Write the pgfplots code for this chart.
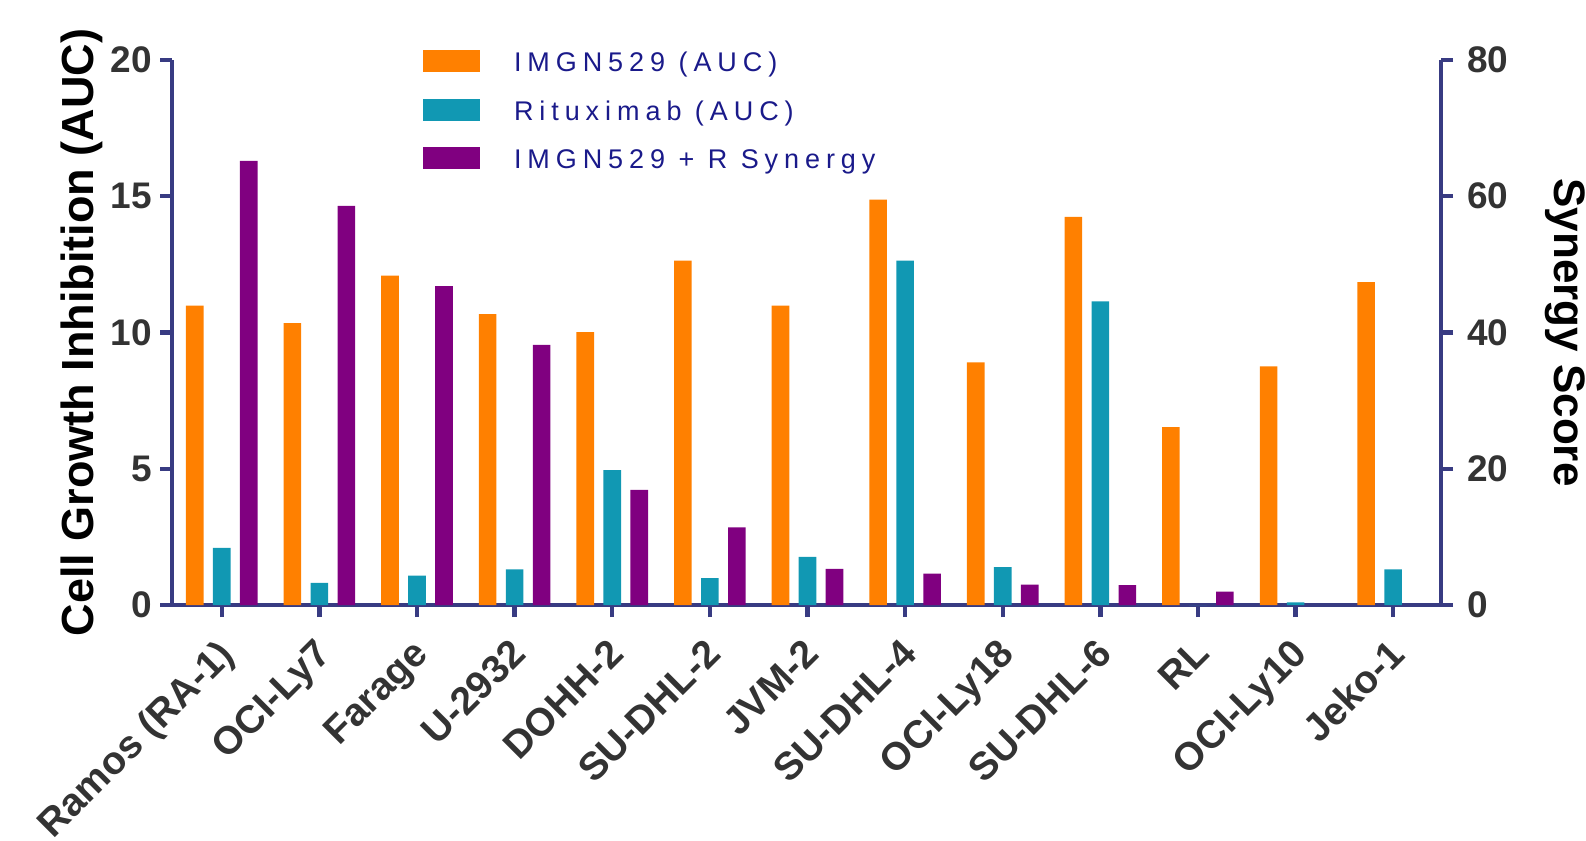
\documentclass[border=0pt]{standalone}
\usepackage{fontspec}
\setmainfont{Liberation Sans}
\newfontfamily\legfont[LetterSpace=22]{Liberation Sans}
\usepackage{pgfplots}
\pgfplotsset{compat=1.18}
\definecolor{cOrange}{HTML}{FF8000}
\definecolor{cTeal}{HTML}{1198B3}
\definecolor{cPurple}{HTML}{800080}
\definecolor{cAxis}{HTML}{383B82}
\definecolor{cLeg}{HTML}{1A1A8A}
\definecolor{cTick}{HTML}{333333}
\pgfplotsset{
  common/.style={
    scale only axis, width=634.5pt, height=272.5pt,
    xmin=-0.51, xmax=12.49,
    ybar, bar width=8.8pt,
    axis line style={-, cAxis, line width=2.4pt},
    major tick style={cAxis, line width=2.2pt},
    major tick length=6pt, tick align=outside,
    minor tick num=0,
    tick label style={font=\bfseries\fontsize{18.5}{20}\selectfont, text=cTick},
    clip=false,
  }
}
\begin{document}
\begin{tikzpicture}
\path[use as bounding box] (-86pt,-118pt) rectangle (707pt,302.5pt);
\begin{axis}[common,
  ymin=0, ymax=20,
  axis x line*=bottom, axis y line*=left,
  xtick={0,1,2,3,4,5,6,7,8,9,10,11,12},
  xticklabels={Ramos (RA-1),OCI-Ly7,Farage,U-2932,DOHH-2,SU-DHL-2,JVM-2,SU-DHL-4,OCI-Ly18,SU-DHL-6,RL,OCI-Ly10,Jeko-1},
  xticklabel style={xshift=-3pt, yshift=-5pt, rotate=45, anchor=north east, font=\bfseries\fontsize{19.5}{21}\selectfont, text=cTick},
  ytick={0,5,10,15,20},
  yticklabels={0,5,10,15,20},
  yticklabel style={xshift=-0.5pt},
  ylabel={Cell Growth Inhibition (AUC)},
  ylabel style={at={(axis description cs:-0.0709,0.5)}, anchor=center, font=\bfseries\fontsize{22.5}{24}\selectfont, text=black},
  legend image code/.code={\fill (0pt,-0.2pt) rectangle (28.5pt,10.8pt);},
  legend style={at={(axis description cs:0.1978,1)}, anchor=north west, yshift=5.05pt,
    draw=none, fill=none, inner sep=0pt, outer sep=0pt, row sep=10.5pt, column sep=17pt,
    nodes={inner sep=0pt, text height=10.8pt, text depth=3pt, anchor=base west,
      font=\legfont\fontsize{13.5}{15}\selectfont, text=cLeg}},
  legend cell align=left,
]
\addplot[fill=cOrange, draw=none, bar shift=-13.5pt] coordinates {
(0,10.99) (1,10.34) (2,12.09) (3,10.67) (4,10.01) (5,12.64) (6,10.99)
(7,14.88) (8,8.90) (9,14.24) (10,6.53) (11,8.76) (12,11.85)};
\addlegendentry{IMGN529 (AUC)}
\addplot[fill=cTeal, draw=none, bar shift=0pt] coordinates {
(0,2.10) (1,0.81) (2,1.08) (3,1.31) (4,4.95) (5,0.99) (6,1.77)
(7,12.64) (8,1.39) (9,11.14) (10,0) (11,0.10) (12,1.31)};
\addlegendentry{Rituximab (AUC)}
\addlegendimage{fill=cPurple, draw=none}
\addlegendentry{IMGN529 + R Synergy}
\end{axis}
\begin{axis}[common,
  ymin=0, ymax=80,
  axis x line=none, axis y line*=right,
  ytick={0,20,40,60,80},
  yticklabels={0,20,40,60,80},
  yticklabel style={xshift=3.5pt},
  ylabel={Synergy Score},
  ylabel style={at={(axis description cs:1.0975,0.5)}, anchor=center, rotate=180, inner sep=0pt, font=\bfseries\fontsize{22}{24}\selectfont, text=black},
]
\addplot[fill=cPurple, draw=none, bar shift=13.5pt] coordinates {
(0,65.2) (1,58.6) (2,46.8) (3,38.2) (4,16.9) (5,11.4) (6,5.3)
(7,4.6) (8,3.0) (9,2.9) (10,1.95)};
\end{axis}
\end{tikzpicture}
\end{document}
